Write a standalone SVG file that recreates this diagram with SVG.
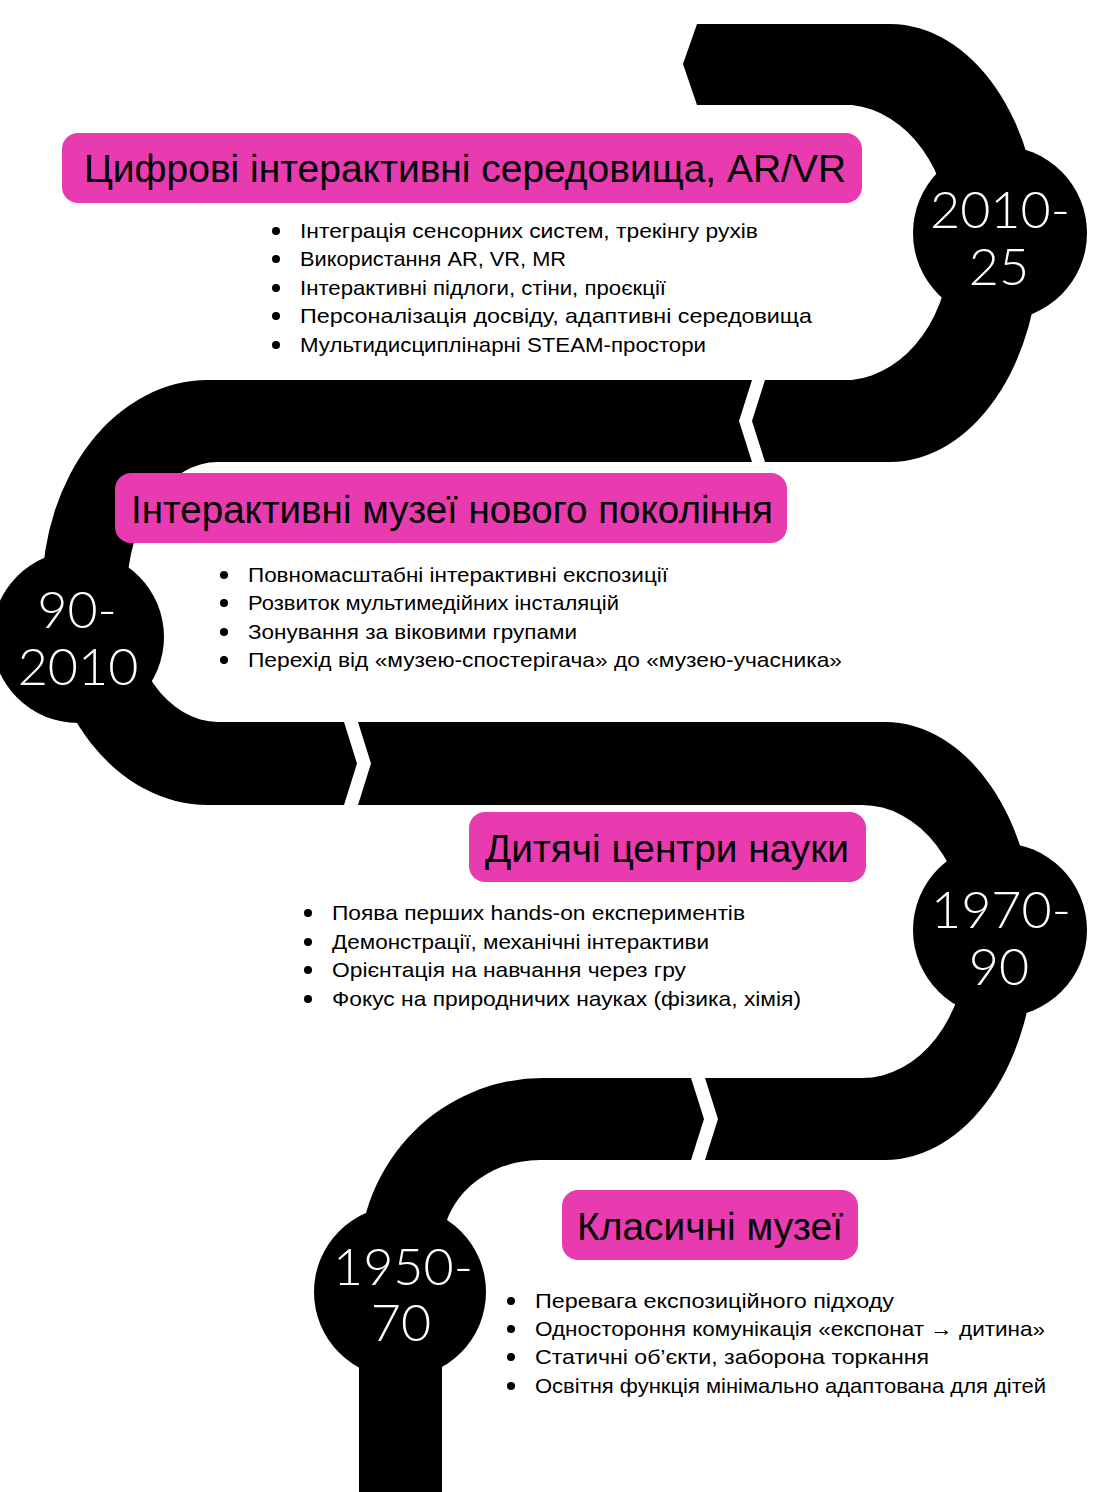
<svg xmlns="http://www.w3.org/2000/svg" width="1100" height="1492" viewBox="0 0 1100 1492">
<style>
.road{fill:#000}
.badge{fill:#000}
.year{fill:#fff;font-family:"Lato","Liberation Sans",sans-serif;font-weight:300;font-size:52px;text-anchor:middle}
.tbox{fill:#E73BAF}
.title{fill:#000;font-family:"Liberation Sans","DejaVu Sans",sans-serif;font-size:38px}
.item{fill:#000;font-family:"Liberation Sans","DejaVu Sans",sans-serif;font-size:21px}
.dot{fill:#000}
</style>
<rect width="1100" height="1492" fill="#fff"/>
<g id="road">
<path class="road" d="M697,24 L890,24 A150,219 0 0 1 890,462 L765,462 L752,421 L765,380 L852,380 A108,138 0 0 0 852,105 L697,105 L683,64 Z"/>
<path class="road" d="M752,380 L208,380 A166,212.5 0 0 0 208,805 L344,805 L357,763.5 L344,722 L218,722 A91,130 0 0 1 218,462 L752,462 L739,421 Z"/>
<path class="road" d="M358,722 L885,722 A150,219 0 0 1 885,1160 L705,1160 L718,1119 L705,1078 L862,1078 A105,136.5 0 0 0 862,805 L358,805 L371,763.5 Z"/>
<path class="road" d="M691,1078 L543,1078 A184,186 0 0 0 359,1264 L359,1492 L442,1492 L442,1247 A98,87 0 0 1 540,1160 L691,1160 L704,1119 Z"/>
</g>
<g id="year-2010-25">
<circle class="badge" cx="1000" cy="233" r="87"/>
<text class="year"><tspan x="1000" y="228">2010-</tspan><tspan x="999" y="285">25</tspan></text>
</g>
<g id="year-90-2010">
<circle class="badge" cx="78" cy="637" r="86"/>
<text class="year"><tspan x="77" y="628">90-</tspan><tspan x="78" y="685">2010</tspan></text>
</g>
<g id="year-1970-90">
<circle class="badge" cx="1000" cy="930" r="87"/>
<text class="year"><tspan x="1001" y="928">1970-</tspan><tspan x="999" y="985">90</tspan></text>
</g>
<g id="year-1950-70">
<circle class="badge" cx="400" cy="1292" r="86"/>
<text class="year"><tspan x="403" y="1285">1950-</tspan><tspan x="401" y="1341">70</tspan></text>
</g>
<g id="title-1">
<rect class="tbox" x="62" y="133" width="800" height="70" rx="16"/>
<text class="title" x="84" y="182" textLength="762" lengthAdjust="spacingAndGlyphs">Цифрові інтерактивні середовища, AR/VR</text>
</g>
<g id="list-1">
<circle class="dot" cx="276" cy="231" r="4"/>
<circle class="dot" cx="276" cy="259" r="4"/>
<circle class="dot" cx="276" cy="288" r="4"/>
<circle class="dot" cx="276" cy="316" r="4"/>
<circle class="dot" cx="276" cy="345" r="4"/>
<text class="item" x="300" y="238" textLength="458" lengthAdjust="spacingAndGlyphs">Інтеграція сенсорних систем, трекінгу рухів</text>
<text class="item" x="300" y="266" textLength="266" lengthAdjust="spacingAndGlyphs">Використання AR, VR, MR</text>
<text class="item" x="300" y="295" textLength="366" lengthAdjust="spacingAndGlyphs">Інтерактивні підлоги, стіни, проєкції</text>
<text class="item" x="300" y="323" textLength="512" lengthAdjust="spacingAndGlyphs">Персоналізація досвіду, адаптивні середовища</text>
<text class="item" x="300" y="352" textLength="406" lengthAdjust="spacingAndGlyphs">Мультидисциплінарні STEAM-простори</text>
</g>
<g id="title-2">
<rect class="tbox" x="115" y="473" width="672" height="70" rx="16"/>
<text class="title" x="131" y="523" textLength="642" lengthAdjust="spacingAndGlyphs">Інтерактивні музеї нового покоління</text>
</g>
<g id="list-2">
<circle class="dot" cx="224" cy="575" r="4"/>
<circle class="dot" cx="224" cy="603" r="4"/>
<circle class="dot" cx="224" cy="632" r="4"/>
<circle class="dot" cx="224" cy="660" r="4"/>
<text class="item" x="248" y="582" textLength="420" lengthAdjust="spacingAndGlyphs">Повномасштабні інтерактивні експозиції</text>
<text class="item" x="248" y="610" textLength="371" lengthAdjust="spacingAndGlyphs">Розвиток мультимедійних інсталяцій</text>
<text class="item" x="248" y="639" textLength="329" lengthAdjust="spacingAndGlyphs">Зонування за віковими групами</text>
<text class="item" x="248" y="667" textLength="594" lengthAdjust="spacingAndGlyphs">Перехід від «музею-спостерігача» до «музею-учасника»</text>
</g>
<g id="title-3">
<rect class="tbox" x="469" y="812" width="397" height="70" rx="16"/>
<text class="title" x="485" y="862" textLength="364" lengthAdjust="spacingAndGlyphs">Дитячі центри науки</text>
</g>
<g id="list-3">
<circle class="dot" cx="308" cy="913" r="4"/>
<circle class="dot" cx="308" cy="942" r="4"/>
<circle class="dot" cx="308" cy="970" r="4"/>
<circle class="dot" cx="308" cy="999" r="4"/>
<text class="item" x="332" y="920" textLength="413" lengthAdjust="spacingAndGlyphs">Поява перших hands-on експериментів</text>
<text class="item" x="332" y="949" textLength="377" lengthAdjust="spacingAndGlyphs">Демонстрації, механічні інтерактиви</text>
<text class="item" x="332" y="977" textLength="354" lengthAdjust="spacingAndGlyphs">Орієнтація на навчання через гру</text>
<text class="item" x="332" y="1006" textLength="469" lengthAdjust="spacingAndGlyphs">Фокус на природничих науках (фізика, хімія)</text>
</g>
<g id="title-4">
<rect class="tbox" x="562" y="1190" width="296" height="70" rx="16"/>
<text class="title" x="577" y="1240" textLength="266" lengthAdjust="spacingAndGlyphs">Класичні музеї</text>
</g>
<g id="list-4">
<circle class="dot" cx="511" cy="1301" r="4"/>
<circle class="dot" cx="511" cy="1329" r="4"/>
<circle class="dot" cx="511" cy="1357" r="4"/>
<circle class="dot" cx="511" cy="1386" r="4"/>
<text class="item" x="535" y="1308" textLength="359" lengthAdjust="spacingAndGlyphs">Перевага експозиційного підходу</text>
<text class="item" x="535" y="1336" textLength="510" lengthAdjust="spacingAndGlyphs">Одностороння комунікація «експонат → дитина»</text>
<text class="item" x="535" y="1364" textLength="394" lengthAdjust="spacingAndGlyphs">Статичні об’єкти, заборона торкання</text>
<text class="item" x="535" y="1393" textLength="511" lengthAdjust="spacingAndGlyphs">Освітня функція мінімально адаптована для дітей</text>
</g>
</svg>
